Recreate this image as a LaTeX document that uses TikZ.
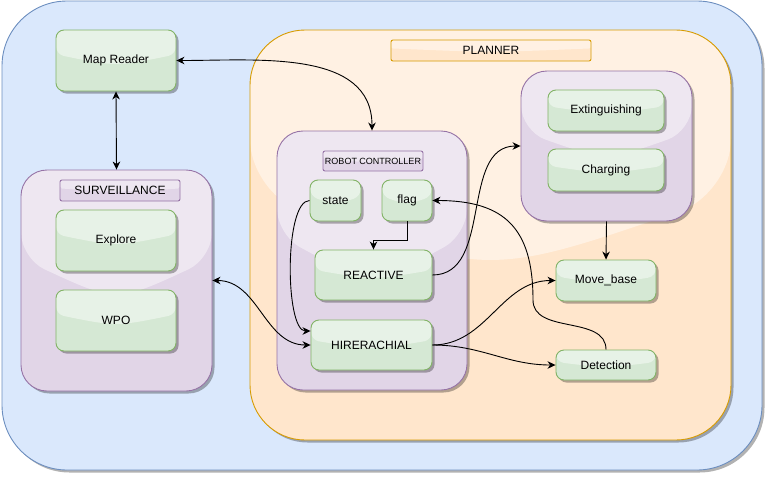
\documentclass[tikz,border=0pt]{standalone}
\usepackage{fontspec}
\setmainfont{Liberation Sans}
\usetikzlibrary{positioning,shadows,arrows.meta,calc}

\definecolor{bluefill}{HTML}{DAE8FC}
\definecolor{bluedraw}{HTML}{6C8EBF}
\definecolor{orangefill}{HTML}{FFE6CC}
\definecolor{orangedraw}{HTML}{D79B00}
\definecolor{purplefill}{HTML}{E1D5E7}
\definecolor{purpledraw}{HTML}{9673A6}
\definecolor{greenfill}{HTML}{D5E8D4}
\definecolor{greendraw}{HTML}{82B366}

\begin{document}
\begin{tikzpicture}
%[node distance = 20 pt, font=\small]
[x=1pt, y=1pt, line width=0.9pt,
glass/.style={path picture={
	\fill[white,opacity=.45] (path picture bounding box.north west) -- (path picture bounding box.north east)
	-- ($(path picture bounding box.north east)!.4!(path picture bounding box.south east)$)
	.. controls ($(path picture bounding box.north)!.6!(path picture bounding box.south)$) ..
	($(path picture bounding box.north west)!.4!(path picture bounding box.south west)$) -- cycle;}},
shade/.style={drop shadow={shadow xshift=2.5pt, shadow yshift=-2.5pt, fill=black, opacity=.3}},
box/.style={draw=greendraw, fill=greenfill, rounded corners=8pt, inner sep=0pt, glass, shade, font=\fontsize{12}{14}\selectfont},
group/.style={draw=purpledraw, fill=purplefill, rounded corners=26pt, inner sep=0pt, glass, shade},
tag/.style={draw=purpledraw, fill=purplefill, rounded corners=2pt, inner sep=0pt, glass, font=\fontsize{12}{14}\selectfont},
link/.style={-{Stealth[length=8pt,width=7.5pt,inset=2.5pt]}},
both/.style={{Stealth[length=8pt,width=7.5pt,inset=2.5pt]}-{Stealth[length=8pt,width=7.5pt,inset=2.5pt]}}]

\useasboundingbox (0,0) rectangle (774,-485);

% containers
\node[draw=bluedraw, fill=bluefill, rounded corners=65pt, minimum width=760, minimum height=469, shade] (main) at (382,-235.5) {};
\node[draw=orangedraw, fill=orangefill, rounded corners=55pt, minimum width=481, minimum height=410, glass, shade] (planner) at (490.5,-235) {};
\node[draw=orangedraw, fill=orangefill, rounded corners=2pt, minimum width=200, minimum height=21, glass, font=\fontsize{12}{14}\selectfont] (plannertag) at (491,-50.5) {PLANNER};

\node[group, minimum width=191, minimum height=221] (surv) at (116.5,-280.5) {};
\node[tag, minimum width=120, minimum height=21] (survtag) at (120,-190.5) {SURVEILLANCE};
\node[group, minimum width=190, minimum height=259] (rc) at (372,-260.5) {};
\node[tag, minimum width=100, minimum height=20, font=\fontsize{9}{10}\selectfont] (rctag) at (373,-161) {ROBOT CONTROLLER};
\node[group, minimum width=171, minimum height=150] (tasks) at (606.5,-146) {};

% modules
\node[box, minimum width=120, minimum height=61] (map) at (116,-60.5) {Map Reader};
\node[box, minimum width=120, minimum height=61] (explore) at (116,-240.5) {Explore};
\node[box, minimum width=120, minimum height=61] (wpo) at (116,-320.5) {WPO};
\node[box, minimum width=51, minimum height=41] (state) at (335.5,-200.5) {state};
\node[box, minimum width=50, minimum height=41] (flag) at (407,-200.5) {flag};
\node[box, minimum width=117, minimum height=50] (reactive) at (373.5,-275) {REACTIVE};
\node[box, minimum width=121, minimum height=50] (hir) at (371.5,-345) {HIRERACHIAL};
\node[box, minimum width=116, minimum height=41] (ext) at (606,-110.5) {Extinguishing};
\node[box, minimum width=116, minimum height=42] (charge) at (606,-170) {Charging};
\node[box, minimum width=100, minimum height=41] (move) at (606,-280.5) {Move\_base};
\node[box, minimum width=100, minimum height=30] (det) at (606,-365) {Detection};

\coordinate (turn) at (533,-300);

% connectors
\draw[both] (map.east) to[out=0,in=90] (rc.north);
\draw[both] (map.south) -- (surv.north);
\draw[both] (surv.east) to[out=0,in=180] (hir.west);
\draw[link] (state.west) to[out=180,in=180,looseness=.5] ([yshift=14pt]hir.west);
\draw[link] (flag.south) -- ++(0,-19) -| (reactive.north);
\draw[link] (reactive.east) to[out=0,in=180] (tasks.west);
\draw[link] (hir.east) to[out=0,in=180] (move.west);
\draw[link] (hir.east) to[out=0,in=180] (det.west);
\draw[link] (tasks.south) -- (move.north);
\draw[link] (det.north) to[out=90,in=-90] (turn) to[out=90,in=0,looseness=1.3] (flag.east);
\end{tikzpicture}
\end{document}
